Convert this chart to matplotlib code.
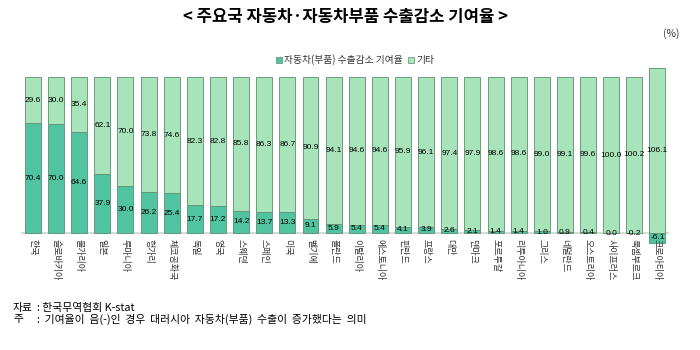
import matplotlib.pyplot as plt
from matplotlib.patches import Patch

plt.rcParams['font.family'] = ['Noto Sans CJK KR', 'DejaVu Sans']

countries = ["한국", "슬로바키아", "불가리아", "일본", "루마니아", "헝가리", "체코공화국",
             "독일", "영국", "스웨덴", "스페인", "미국", "벨기에", "폴란드", "이탈리아",
             "에스토니아", "핀란드", "프랑스", "대만", "덴마크", "포르투갈", "리투아니아",
             "그리스", "네덜란드", "오스트리아", "사이프러스", "룩셈부르크", "크로아티아"]
auto_share = [70.4, 70.0, 64.6, 37.9, 30.0, 26.2, 25.4, 17.7, 17.2, 14.2, 13.7, 13.3,
              9.1, 5.9, 5.4, 5.4, 4.1, 3.9, 2.6, 2.1, 1.4, 1.4, 1.0, 0.9, 0.4, 0.0,
              -0.2, -6.1]
other_share = [29.6, 30.0, 35.4, 62.1, 70.0, 73.8, 74.6, 82.3, 82.8, 85.8, 86.3, 86.7,
               90.9, 94.1, 94.6, 94.6, 95.9, 96.1, 97.4, 97.9, 98.6, 98.6, 99.0, 99.1,
               99.6, 100.0, 100.2, 106.1]

dark = '#50C3A0'
light = '#A8E4B9'
edge = '#5E8E72'
num_font = ['Liberation Sans', 'DejaVu Sans']

fig = plt.figure(figsize=(7, 3.5), dpi=100)
ax = fig.add_axes([21.4 / 700, 104.5 / 350, 647.6 / 700, 184 / 350])

x = list(range(len(countries)))
base = [max(v, 0) for v in auto_share]
ax.axhline(0, color='#d9d9d9', lw=1.5, zorder=0)
ax.bar(x, auto_share, width=0.69, color=dark, edgecolor=edge, lw=0.6, zorder=2)
ax.bar(x, other_share, width=0.69, bottom=base, color=light, edgecolor=edge, lw=0.6, zorder=2)

# value labels sit in the middle of each segment
for i in x:
    a = auto_share[i]
    o = other_share[i]
    ax.text(i, a / 2, f"{a:.1f}", ha='center', va='center', fontsize=6,
            family=num_font, zorder=3)
    ax.text(i, base[i] + o / 2, f"{o:.1f}", ha='center', va='center', fontsize=6,
            family=num_font, zorder=3)
    ax.annotate(countries[i], xy=(i, 0), xytext=(0, -4.5), textcoords='offset points',
                rotation=270, ha='center', va='top', fontsize=6.5, color='#333333')

ax.set_xlim(-0.5, len(countries) - 0.5)
ax.set_ylim(-8, 110)
ax.axis('off')

fig.text(0.493, 1 - 17 / 350, "< 주요국 자동차·자동차부품 수출감소 기여율 >",
         ha='center', va='center', fontsize=12, fontweight='bold')
fig.text(679 / 700, 1 - 34 / 350, "(%)", ha='right', va='center', fontsize=7.5,
         color='#333333')

handles = [Patch(facecolor=dark, edgecolor=edge, lw=0.5, label='자동차(부품) 수출감소 기여율'),
           Patch(facecolor=light, edgecolor=edge, lw=0.5, label='기타')]
fig.legend(handles=handles, loc='center', bbox_to_anchor=(355 / 700, 1 - 60 / 350), ncol=2,
           frameon=False, fontsize=7, handlelength=0.6, handleheight=0.6,
           handletextpad=0.2, columnspacing=0.6, labelcolor='#333333')

fig.text(13 / 700, 1 - 308 / 350, "자료", ha='left', va='center', fontsize=7.8)
fig.text(37 / 700, 1 - 308 / 350, ": 한국무역협회 K-stat", ha='left', va='center',
         fontsize=7.8)
fig.text(13 / 700, 1 - 319 / 350, "주", ha='left', va='center', fontsize=7.8)
fig.text(37 / 700, 1 - 319 / 350,
         ":  기여율이  음(-)인  경우  대러시아  자동차(부품)  수출이  증가했다는  의미",
         ha='left', va='center', fontsize=7.8)

fig.savefig('out.png', dpi=100)
